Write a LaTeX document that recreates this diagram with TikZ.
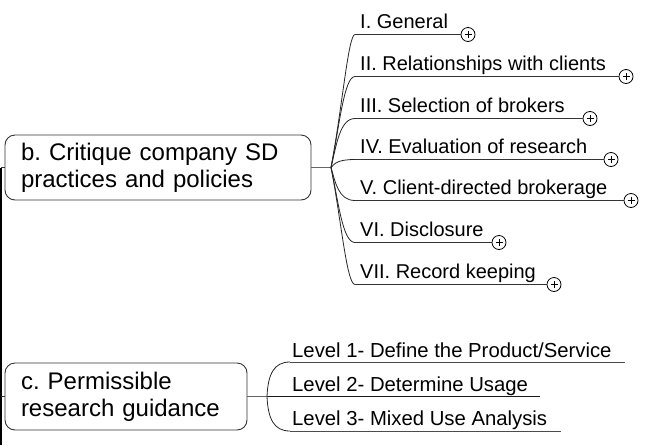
\documentclass[tikz,border=0pt]{standalone}
\usepackage{fontspec}
\setmainfont{Liberation Sans}
\frenchspacing
\begin{document}
\begin{tikzpicture}[x=1pt,y=-1pt]
\tikzset{
  topic/.style={draw=black!80, line width=0.9pt, rounded corners=10pt, align=left,
    inner xsep=16pt, inner ysep=0pt, font=\fontsize{24}{27}\selectfont},
  btext/.style={anchor=base west, inner sep=0pt, font=\fontsize{20}{22}\selectfont},
  ltext/.style={anchor=base west, inner sep=0pt, font=\fontsize{20.3}{22}\selectfont},
  conn/.style={draw=black!85, line width=0.8pt},
  uline/.style={draw=black!80, line width=0.9pt},
  trunk/.style={draw=black, line width=1.6pt},
  plusmark/.style={circle, draw=black, fill=white, line width=0.8pt, minimum size=14pt,
    inner sep=0pt,
    path picture={\draw[line width=0.7pt]
      ([xshift=-3.5pt]path picture bounding box.center) -- ([xshift=3.5pt]path picture bounding box.center)
      ([yshift=-3.5pt]path picture bounding box.center) -- ([yshift=3.5pt]path picture bounding box.center);}},
}
\useasboundingbox (0,0) rectangle (645,445);

% main topics
\node[topic, text width=274pt, minimum width=306pt, minimum height=65pt] (b) at (158,167.5)
  {b. Critique company SD\\practices and policies};
\node[topic, text width=210pt, minimum width=242pt, minimum height=67pt] (c) at (126,396.5)
  {c. Permissible\\research guidance};

% trunk on the left
\coordinate (tb) at (1,167.5);
\coordinate (tc) at (1,396.5);
\coordinate (tbot) at (1,445);
\draw[trunk] (tb) -- (tbot);
\draw[uline] (tb) -- (b.west);
\draw[uline] (tc) -- (c.west);

% hubs
\coordinate (hubB) at (331,167.5);
\coordinate (hubC) at (267,396.5);
\draw[uline, draw=black!60] (b.east) -- (hubB);

% branches of b
\node[btext] (t1) at (360,28) {I. General};
\node[btext] (t2) at (360,70) {II. Relationships with clients};
\node[btext] (t3) at (360,112) {III. Selection of brokers};
\node[btext] (t4) at (360,153) {IV. Evaluation of research};
\node[btext] (t5) at (360,194) {V. Client-directed brokerage};
\node[btext] (t6) at (360,236) {VI. Disclosure};
\node[btext] (t7) at (360,278) {VII. Record keeping};

\node[plusmark] (p1) at (468,34.5) {};
\node[plusmark] (p2) at (626,76.5) {};
\node[plusmark] (p3) at (590,118.5) {};
\node[plusmark] (p4) at (611,159.5) {};
\node[plusmark] (p5) at (631,200.5) {};
\node[plusmark] (p6) at (499,242.5) {};
\node[plusmark] (p7) at (554,284.5) {};

\coordinate (s1) at (355,34.5);
\coordinate (s2) at (355,76.5);
\coordinate (s3) at (355,118.5);
\coordinate (s4) at (355,159.5);
\coordinate (s5) at (355,200.5);
\coordinate (s6) at (355,242.5);
\coordinate (s7) at (355,284.5);

\draw[conn] (hubB) .. controls (342.3,107.2) and (348.3,34.5) .. (s1);
\draw[conn] (hubB) .. controls (339.4,126.0) and (344.1,76.5) .. (s2);
\draw[conn] (hubB) .. controls (336.4,145.0) and (339.9,118.5) .. (s3);
\draw[conn] (hubB) .. controls (334.6,163.4) and (337.8,159.5) .. (s4);
\draw[conn] (hubB) .. controls (335.3,181.9) and (338.3,200.5) .. (s5);
\draw[conn] (hubB) .. controls (338.3,200.8) and (342.5,242.5) .. (s6);
\draw[conn] (hubB) .. controls (341.2,219.7) and (346.7,284.5) .. (s7);

\draw[uline] (s1) -- (p1.west);
\draw[uline] (s2) -- (p2.west);
\draw[uline] (s3) -- (p3.west);
\draw[uline] (s4) -- (p4.west);
\draw[uline] (s5) -- (p5.west);
\draw[uline] (s6) -- (p6.west);
\draw[uline] (s7) -- (p7.west);

% branches of c
\node[ltext] (l1) at (292,357) {Level 1- Define the Product/Service};
\node[ltext] (l2) at (292,391.5) {Level 2- Determine Usage};
\node[ltext] (l3) at (292,425) {Level 3- Mixed Use Analysis};

\coordinate (ls1) at (290,362);
\coordinate (le1) at (625,362);
\coordinate (le2) at (540,396.5);
\coordinate (ls3) at (290,431);
\coordinate (le3) at (561,431);

\draw[uline, draw=black!60] (c.east) -- (hubC);
\draw[conn] (hubC) .. controls (268,374) and (274,362) .. (ls1);
\draw[uline, draw=black!70] (ls1) -- (le1);
\draw[uline, draw=black!90] (hubC) -- (le2);
\draw[conn] (hubC) .. controls (268,419) and (274,431) .. (ls3);
\draw[uline, draw=black!70] (ls3) -- (le3);
\end{tikzpicture}
\end{document}
